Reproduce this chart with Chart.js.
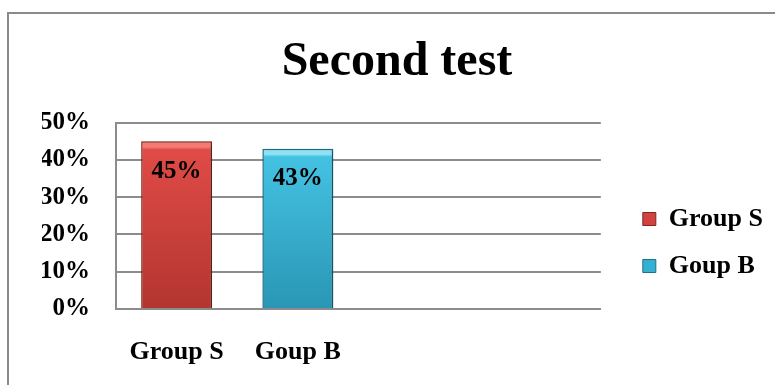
<!DOCTYPE html>
<html>
<head>
<meta charset="utf-8">
<script src="https://cdn.jsdelivr.net/npm/chart.js@4.4.1/dist/chart.umd.min.js"></script>
<style>
    html, body { margin: 0; padding: 0; background: #fff; }
    #wrap { position: relative; width: 775px; height: 385px; overflow: hidden; }
    #frame { position: absolute; left: 7px; top: 12px; width: 900px; height: 500px;
             border-left: 2px solid #8a8a8a; border-top: 2px solid #8a8a8a; }
    canvas { position: absolute; left: 0; top: 0; }
</style>
</head>
<body>
<div id="wrap">
    <div id="frame"></div>
    <canvas id="chart" width="775" height="385"></canvas>
</div>
<script>
    // values
    var categories = ['Group S', 'Goup B', '', ''];
    var groupS = [45, null, null, null];
    var goupB = [null, 43, null, null];
    var yTicks = [0, 10, 20, 30, 40, 50];

    var red = { bevel: '#f47a74', top: '#e04b47', bottom: '#b3352f', border: '#86231f', legend: '#d0433f' };
    var blue = { bevel: '#8ee2f4', top: '#44c2e2', bottom: '#2a96b5', border: '#1f6f88', legend: '#35b0d2' };

    Chart.defaults.font.family = '"Liberation Serif", "Times New Roman", serif';
    Chart.defaults.font.weight = 'bold';
    Chart.defaults.color = '#000';

    // top-lit fill, like the bevelled bars of the original
    function barFill(pal) {
        return function(ctx) {
            var chart = ctx.chart;
            var y = chart.scales.y;
            if (!y || ctx.dataIndex === undefined || ctx.raw == null) return pal.legend;
            var top = y.getPixelForValue(ctx.raw);
            var bottom = y.getPixelForValue(0);
            var g = chart.ctx.createLinearGradient(0, top, 0, bottom);
            g.addColorStop(0, pal.bevel);
            g.addColorStop(0.035, pal.bevel);
            g.addColorStop(0.05, pal.top);
            g.addColorStop(1, pal.bottom);
            return g;
        };
    }

    var shadowPlugin = {
        id: 'shadow',
        beforeDatasetsDraw: function(chart) {
            var c = chart.ctx;
            c.save();
            c.shadowColor = 'rgba(0,0,0,0.35)';
            c.shadowOffsetX = 2;
            c.shadowOffsetY = 1;
            c.shadowBlur = 3;
        },
        afterDatasetsDraw: function(chart) {
            chart.ctx.restore();
        }
    };

    var labelPlugin = {
        id: 'barLabels',
        afterDatasetsDraw: function(chart) {
            var c = chart.ctx;
            c.save();
            c.font = 'bold 25px "Liberation Serif"';
            c.fillStyle = '#000';
            c.textAlign = 'center';
            c.textBaseline = 'middle';
            chart.data.datasets.forEach(function(ds, i) {
                chart.getDatasetMeta(i).data.forEach(function(bar, j) {
                    if (ds.data[j] == null) return;
                    c.fillText(ds.data[j] + '%', bar.x, bar.y + 30);
                });
            });
            c.restore();
        }
    };

    // move the legend to where it sits in the picture
    var legendShift = {
        id: 'legendShift',
        afterLayout: function(chart) {
            var l = chart.legend;
            l.left += 21;
            l.right += 21;
            l.top += 50;
            l.bottom += 50;
        }
    };

    var ctx = document.getElementById('chart').getContext('2d');
    new Chart(ctx, {
        type: 'bar',
        data: {
            labels: categories,
            datasets: [{
                label: 'Group S',
                data: groupS,
                backgroundColor: barFill(red),
                borderColor: red.border,
                borderWidth: 1.5,
                legendColor: red.legend
            }, {
                label: 'Goup B',
                data: goupB,
                backgroundColor: barFill(blue),
                borderColor: blue.border,
                borderWidth: 1.5,
                legendColor: blue.legend
            }]
        },
        options: {
            responsive: false,
            animation: false,
            skipNull: true,
            categoryPercentage: 1,
            barPercentage: 0.585,
            layout: { padding: { left: 42, right: 23, top: 0, bottom: 0 } },
            plugins: {
                title: {
                    display: true,
                    text: 'Second test',
                    font: { size: 48, weight: 'bold' },
                    color: '#000',
                    padding: { top: 34, bottom: 31 }
                },
                legend: {
                    position: 'right',
                    labels: {
                        boxWidth: 13,
                        boxHeight: 13,
                        padding: 21,
                        font: { size: 26, weight: 'bold' },
                        color: '#000',
                        generateLabels: function(chart) {
                            return chart.data.datasets.map(function(ds, i) {
                                return {
                                    text: ds.label,
                                    fillStyle: ds.legendColor,
                                    strokeStyle: ds.borderColor,
                                    lineWidth: 1,
                                    datasetIndex: i
                                };
                            });
                        }
                    }
                },
                tooltip: { enabled: false }
            },
            scales: {
                x: {
                    grid: { display: false },
                    border: { display: true, color: '#8c8c8c', width: 2 },
                    ticks: { font: { size: 26, weight: 'bold' }, padding: 20, color: '#000' },
                    afterFit: function(scale) { scale.height = 76; }
                },
                y: {
                    min: 0,
                    max: 50,
                    afterBuildTicks: function(scale) {
                        scale.ticks = yTicks.map(function(v) { return { value: v }; });
                    },
                    grid: { color: '#8c8c8c', lineWidth: 2, drawTicks: false },
                    border: { display: true, color: '#8c8c8c', width: 2 },
                    ticks: {
                        font: { size: 25, weight: 'bold' },
                        padding: 26,
                        color: '#000',
                        callback: function(v) { return v + '%'; }
                    },
                    afterFit: function(scale) { scale.width = 74; }
                }
            }
        },
        plugins: [shadowPlugin, labelPlugin, legendShift]
    });
</script>
</body>
</html>
